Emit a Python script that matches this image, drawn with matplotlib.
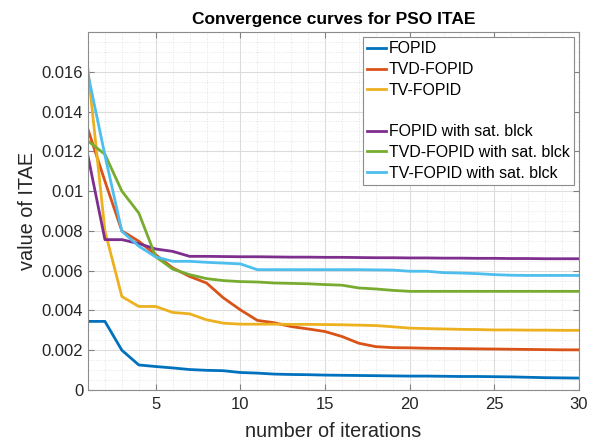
import matplotlib
matplotlib.use("Agg")
import matplotlib.pyplot as plt
from matplotlib.lines import Line2D
from matplotlib.ticker import MultipleLocator, FixedLocator

plt.rcParams['font.family'] = ['Liberation Sans', 'DejaVu Sans']

iterations = list(range(1, 31))

fopid = [0.00345, 0.00345, 0.0020, 0.00126, 0.00118, 0.00111, 0.00103, 0.00099, 0.00097, 0.00088,
         0.00085, 0.00080, 0.00078, 0.00077, 0.00075, 0.00074, 0.00073, 0.00072, 0.00071, 0.00070,
         0.00070, 0.00069, 0.00068, 0.00068, 0.00067, 0.00066, 0.00064, 0.00062, 0.00061, 0.00060]
tvd_fopid = [0.0131, 0.0105, 0.0080, 0.00748, 0.0068, 0.00614, 0.00571, 0.00538, 0.00463, 0.00403,
             0.0035, 0.00338, 0.00319, 0.00307, 0.00294, 0.00269, 0.00235, 0.00218, 0.00213, 0.00212,
             0.00210, 0.00209, 0.00208, 0.00207, 0.00206, 0.00205, 0.00204, 0.00203, 0.00202, 0.00202]
tv_fopid = [0.0161, 0.0080, 0.0047, 0.0042, 0.0042, 0.0039, 0.00383, 0.00353, 0.00336, 0.00331,
            0.00331, 0.00331, 0.00330, 0.00330, 0.00329, 0.00328, 0.00326, 0.00324, 0.00318, 0.00311,
            0.00309, 0.00307, 0.00305, 0.00304, 0.00302, 0.00302, 0.00301, 0.00301, 0.00300, 0.00300]
fopid_sat = [0.01176, 0.00756, 0.00756, 0.00736, 0.00709, 0.00697, 0.00672, 0.00672, 0.00671, 0.00670,
             0.00670, 0.00669, 0.00668, 0.00668, 0.00667, 0.00667, 0.00666, 0.00665, 0.00665, 0.00664,
             0.00664, 0.00663, 0.00663, 0.00662, 0.00662, 0.00661, 0.00661, 0.00660, 0.00660, 0.00660]
tvd_fopid_sat = [0.01252, 0.01185, 0.0100, 0.0089, 0.0067, 0.00608, 0.0058, 0.0056, 0.0055, 0.00545,
                 0.00543, 0.00538, 0.00536, 0.00534, 0.0053, 0.00527, 0.00513, 0.00508, 0.00501, 0.00496,
                 0.00496, 0.00496, 0.00496, 0.00496, 0.00496, 0.00496, 0.00496, 0.00496, 0.00496, 0.00496]
tv_fopid_sat = [0.01588, 0.0118, 0.00798, 0.00723, 0.00669, 0.00647, 0.00647, 0.00642, 0.00638, 0.00634,
                0.00605, 0.00605, 0.00605, 0.00605, 0.00605, 0.00605, 0.00605, 0.00604, 0.00603, 0.00597,
                0.00597, 0.0059, 0.00588, 0.00585, 0.0058, 0.00577, 0.00576, 0.00576, 0.00576, 0.00576]

labels = ["FOPID", "TVD-FOPID", "TV-FOPID",
          "FOPID with sat. blck", "TVD-FOPID with sat. blck", "TV-FOPID with sat. blck"]
colors = ["#0072BD", "#D95319", "#EDB120", "#7E2F8E", "#77AC30", "#4DBEEE"]
series = [fopid, tvd_fopid, tv_fopid, fopid_sat, tvd_fopid_sat, tv_fopid_sat]
ytick_vals = [0, 0.002, 0.004, 0.006, 0.008, 0.01, 0.012, 0.014, 0.016]
ytick_labels = ["0", "0.002", "0.004", "0.006", "0.008", "0.01", "0.012", "0.014", "0.016"]
xtick_vals = [5, 10, 15, 20, 25, 30]

fig = plt.figure(figsize=(6.01, 4.44), dpi=100)
ax = fig.add_axes([0.1464, 0.1216, 0.817, 0.8064])

handles = []
for s, c, l in zip(series, colors, labels):
    h, = ax.plot(iterations, s, color=c, lw=2.0, label=l)
    handles.append(h)

ax.set_xlim(1, 30)
ax.set_ylim(0, 0.0180)
ax.xaxis.set_major_locator(FixedLocator(xtick_vals))
ax.yaxis.set_major_locator(FixedLocator(ytick_vals))
ax.set_yticklabels(ytick_labels)
ax.xaxis.set_minor_locator(MultipleLocator(1))
ax.yaxis.set_minor_locator(MultipleLocator(0.0005))

ax.grid(which='major', color='#dcdcdc', lw=0.8, ls='-')
ax.grid(which='minor', color='#e4e4e4', lw=0.7, ls=':')
ax.set_axisbelow(True)

ax.tick_params(which='both', direction='in', top=True, right=True, colors='#262626',
               labelsize=12)
ax.tick_params(which='minor', length=0)
ax.tick_params(which='major', length=4, color='#808080')
ax.tick_params(axis='x', pad=5)
for sp in ax.spines.values():
    sp.set_color('#8c8c8c')
    sp.set_linewidth(0.8)

ax.set_xlabel("number of iterations", fontsize=14.3, color='#262626', labelpad=7)
ax.set_ylabel("value of ITAE", fontsize=14.3, color='#262626', labelpad=3)
ax.set_title("Convergence curves for PSO ITAE", fontsize=12.5, fontweight='bold', pad=6)

blank = Line2D([], [], color='none')
leg_handles = handles[:3] + [blank] + handles[3:]
leg_labels = labels[:3] + [" "] + labels[3:]
leg = ax.legend(leg_handles, leg_labels, loc='upper right', fontsize=11.4,
                handlelength=1.2, handletextpad=0.15, borderaxespad=0.3,
                labelspacing=0.36, borderpad=0.3, fancybox=False, framealpha=1,
                edgecolor='#8c8c8c')
leg.get_frame().set_linewidth(0.8)

fig.savefig("out.png", dpi=100)
